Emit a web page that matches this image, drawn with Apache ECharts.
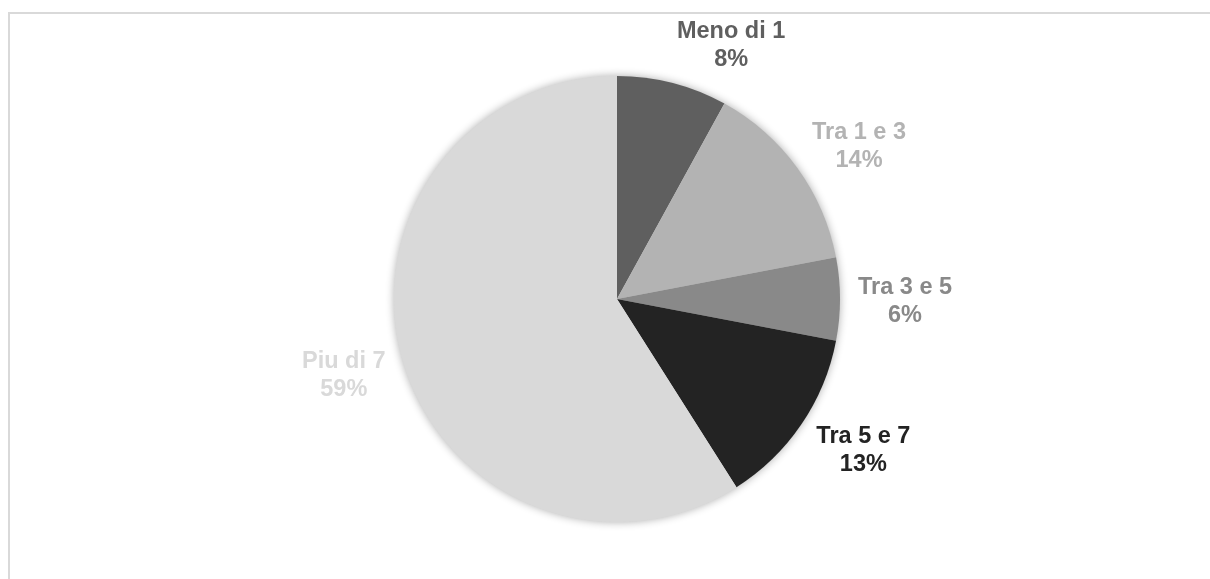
<!DOCTYPE html>
<html>
<head>
<meta charset="utf-8">
<script src="https://cdn.jsdelivr.net/npm/echarts@6.0.0/dist/echarts.min.js"></script>
<style>
  html, body { margin: 0; padding: 0; background: #ffffff; }
  #chart { width: 1210px; height: 579px; }
</style>
</head>
<body>
<div id="chart"></div>
<script>
// Years of experience: share of respondents per band
const categories = ['Meno di 1', 'Tra 1 e 3', 'Tra 3 e 5', 'Tra 5 e 7', 'Piu di 7'];
const shares = [8, 14, 6, 13, 59];
const sliceColors = ['#5f5f5f', '#b3b3b3', '#898989', '#232323', '#d9d9d9'];

const total = shares.reduce((a, b) => a + b, 0);
const pieCenter = [617, 299];
const pieRadius = 223;
const labelGap = 18;

// mid angle (radians, measured clockwise from 12 o'clock) of each slice
const midAngles = [];
let acc = 0;
shares.forEach(v => {
  midAngles.push(((acc + v / 2) / total) * Math.PI * 2);
  acc += v;
});

const chart = echarts.init(document.getElementById('chart'), null, { renderer: 'canvas' });

chart.setOption({
  animation: false,
  backgroundColor: '#ffffff',
  graphic: [{
    type: 'rect',
    silent: true,
    shape: { x: 9, y: 13, width: 1400, height: 800 },
    style: { fill: 'none', stroke: '#d9d9d9', lineWidth: 2 }
  }],
  series: [
    {
      // soft shadow under the whole disc
      type: 'pie',
      silent: true,
      z: 1,
      center: pieCenter,
      radius: pieRadius,
      startAngle: 90,
      label: { show: false },
      labelLine: { show: false },
      itemStyle: {
        color: '#d9d9d9',
        borderWidth: 0,
        shadowBlur: 8,
        shadowColor: 'rgba(0,0,0,0.32)'
      },
      data: [{ value: total, name: '' }]
    },
    {
      type: 'pie',
      z: 2,
      center: pieCenter,
      radius: pieRadius,
      startAngle: 90,
      clockwise: true,
      avoidLabelOverlap: false,
      itemStyle: { borderWidth: 0 },
      labelLine: { show: false },
      label: {
        show: true,
        position: 'outside',
        formatter: p => p.name + '\n' + p.value + '%',
        fontFamily: 'Liberation Sans, Arial, sans-serif',
        fontWeight: 'bold',
        fontSize: 23.5,
        lineHeight: 28,
        align: 'center'
      },
      labelLayout: function (params) {
        const a = midAngles[params.dataIndex];
        const d = pieRadius + labelGap;
        const px = pieCenter[0] + d * Math.sin(a);
        const py = pieCenter[1] - d * Math.cos(a);
        const w = params.labelRect.width;
        const h = params.labelRect.height;
        const s = Math.sin(a);
        const sx = Math.abs(s) < 1e-6 ? 0 : Math.sign(s);
        return {
          x: px + sx * w / 2,
          y: py - (h / 2) * Math.cos(a) * 0.85 + 3,
          align: 'center',
          verticalAlign: 'middle'
        };
      },
      data: categories.map((name, i) => ({
        name: name,
        value: shares[i],
        itemStyle: { color: sliceColors[i] },
        label: { color: sliceColors[i] }
      }))
    }
  ]
});
</script>
</body>
</html>
